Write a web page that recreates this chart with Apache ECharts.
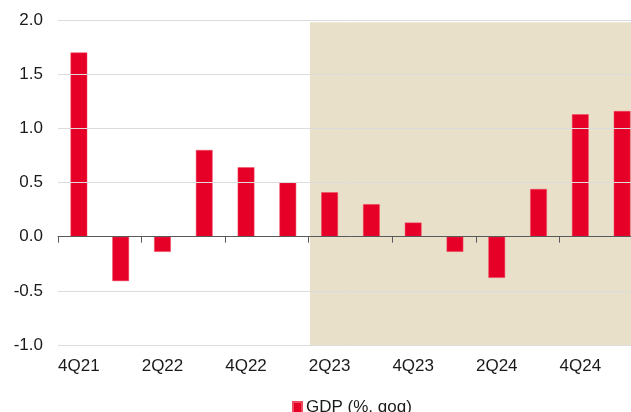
<!DOCTYPE html>
<html>
<head>
<meta charset="utf-8">
<script src="https://cdn.jsdelivr.net/npm/echarts@6/dist/echarts.min.js"></script>
<style>
  html, body { margin: 0; padding: 0; background: #fff; overflow: hidden; }
  /* the reference cuts the last quarter's band at the window edge */
  #chart { width: 643px; height: 412px; }
</style>
</head>
<body>
<div id="chart"></div>
<script>
  // quarters and GDP growth (%, qoq)
  var quarters = ['4Q21', '1Q22', '2Q22', '3Q22', '4Q22', '1Q23', '2Q23',
                  '3Q23', '4Q23', '1Q24', '2Q24', '3Q24', '4Q24', '1Q25'];
  var gdp = [1.70, -0.41, -0.14, 0.80, 0.64, 0.50, 0.41,
             0.30, 0.13, -0.14, -0.38, 0.44, 1.13, 1.16];
  var yTicks = [-1.0, -0.5, 0.0, 0.5, 1.0, 1.5, 2.0];
  // shaded period, as category positions (start of 2Q23 to end)
  var shadeFrom = 6.03, shadeTo = 14;

  var font = 'Liberation Sans, Arial, sans-serif';
  var chart = echarts.init(document.getElementById('chart'));

  chart.setOption({
    animation: false,
    grid: { left: 58, right: 0, top: 20, bottom: 67 },
    legend: {
      data: ['GDP (%, qoq)'],
      left: 287, bottom: -9,
      itemWidth: 9, itemHeight: 11, itemGap: 4,
      icon: 'rect',
      textStyle: { fontFamily: font, fontSize: 17, color: '#1a1a1a', padding: [0, 0, 0, -1] }
    },
    xAxis: [
      {
        // labels at the bottom
        type: 'category', data: quarters, position: 'bottom',
        axisLine: { show: false, onZero: false },
        axisTick: { show: false },
        axisLabel: { interval: 1, margin: 13, fontFamily: font, fontSize: 17, color: '#1a1a1a' }
      },
      {
        // line and ticks at zero, drawn over the shading
        type: 'category', data: quarters, position: 'top', z: 10,
        axisLine: { show: true, onZero: true, lineStyle: { color: '#595959', width: 1 } },
        axisTick: { show: true, interval: 1, inside: true, length: 6, lineStyle: { color: '#595959', width: 1 } },
        axisLabel: { show: false }
      },
      {
        type: 'value', min: 0, max: quarters.length, show: false
      }
    ],
    yAxis: {
      type: 'value', min: yTicks[0], max: yTicks[yTicks.length - 1], interval: 0.5,
      z: 5,
      axisLine: { show: false },
      axisTick: { show: false },
      splitLine: { lineStyle: { color: '#dcdcdc', width: 1 } },
      axisLabel: {
        margin: 15, fontFamily: font, fontSize: 17, color: '#1a1a1a',
        formatter: function (v) { return v.toFixed(1); }
      }
    },
    series: [
      {
        type: 'line', xAxisIndex: 2, data: [], silent: true, z: -1,
        markArea: {
          silent: true,
          itemStyle: { color: '#e9e0ca' },
          data: [[{ xAxis: shadeFrom, yAxis: 1.98 }, { xAxis: shadeTo, yAxis: yTicks[0] }]]
        }
      },
      {
        name: 'GDP (%, qoq)', type: 'bar', xAxisIndex: 0, data: gdp,
        barWidth: '40%',
        itemStyle: { color: '#e60028', borderColor: '#f04a60', borderWidth: 0.5 },
        z: 3
      }
    ]
  });
</script>
</body>
</html>
